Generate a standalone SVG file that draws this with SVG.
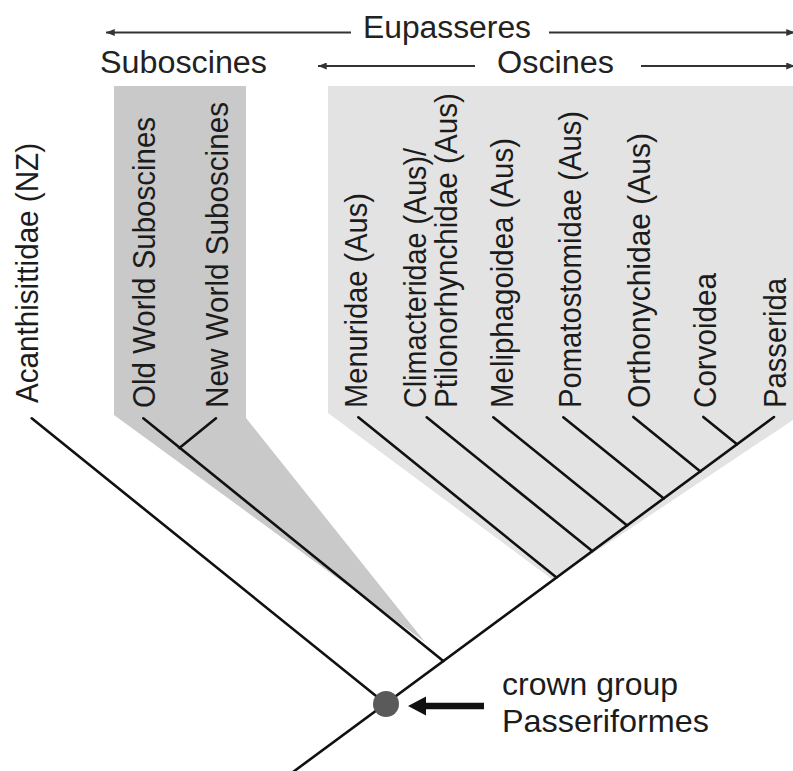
<svg xmlns="http://www.w3.org/2000/svg" width="793" height="771" viewBox="0 0 793 771">
  <defs>
    <style>
      .lbl { font-family: "Liberation Sans", Arial, sans-serif; font-size: 31px; fill: #1c1c1c; }
      .hdr { font-family: "Liberation Sans", Arial, sans-serif; font-size: 31px; fill: #222; }
      .br { stroke: #111; stroke-width: 2.6; fill: none; stroke-linecap: round; }
      .hl { stroke: #333; stroke-width: 2; fill: none; }
    </style>
    <marker id="ah" viewBox="0 0 10 8" refX="10" refY="4" markerWidth="9" markerHeight="7" markerUnits="userSpaceOnUse" orient="auto-start-reverse">
      <path d="M0,0 L10,4 L0,8 z" fill="#333"/>
    </marker>
  </defs>
  <rect width="793" height="771" fill="#fff"/>

  <!-- shaded clades -->
  <g id="shade-oscines">
    <polygon points="328,86 793,86 793,420 553,580 328,413" fill="#e3e3e3"/>
  </g>
  <g id="shade-suboscines">
    <polygon points="114,86 246,86 246,418 425,642 114,415" fill="#c9c9c9"/>
  </g>

  <!-- header labels -->
  <g id="eupasseres">
    <line class="hl" x1="351" y1="32.5" x2="106" y2="32.5" marker-end="url(#ah)"/>
    <text class="hdr" x="363" y="37.5" textLength="168" lengthAdjust="spacingAndGlyphs">Eupasseres</text>
    <line class="hl" x1="549" y1="32.5" x2="795" y2="32.5" marker-end="url(#ah)"/>
  </g>
  <g id="suboscines">
    <text class="hdr" x="100" y="73" textLength="167" lengthAdjust="spacingAndGlyphs">Suboscines</text>
  </g>
  <g id="oscines">
    <line class="hl" x1="475" y1="66" x2="318" y2="66" marker-end="url(#ah)"/>
    <text class="hdr" x="497" y="73" textLength="117" lengthAdjust="spacingAndGlyphs">Oscines</text>
    <line class="hl" x1="641" y1="66" x2="795" y2="66" marker-end="url(#ah)"/>
  </g>

  <!-- connectors (tree branches) -->
  <g id="connectors">
    <line class="br" x1="293" y1="772" x2="774" y2="417"/>
    <line class="br" x1="31.7" y1="418.3" x2="386" y2="704"/>
    <line class="br" x1="143.3" y1="418.3" x2="443.3" y2="661"/>
    <line class="br" x1="216" y1="418.3" x2="179.4" y2="448"/>
    <line class="br" x1="358.3" y1="417.3" x2="556.5" y2="577.5"/>
    <line class="br" x1="426.7" y1="417.3" x2="592.2" y2="551"/>
    <line class="br" x1="493.3" y1="417.3" x2="627.1" y2="525.4"/>
    <line class="br" x1="563.3" y1="417.3" x2="663.8" y2="498.4"/>
    <line class="br" x1="633.3" y1="417" x2="700.4" y2="471.4"/>
    <line class="br" x1="703.3" y1="417" x2="737" y2="444.3"/>
  </g>

  <!-- tip labels -->
  <g id="acanthisittidae"><text class="lbl" transform="translate(38,403) rotate(-90)" textLength="260" lengthAdjust="spacingAndGlyphs">Acanthisittidae (NZ)</text></g>
  <g id="old-world-suboscines"><text class="lbl" transform="translate(155,408) rotate(-90)" textLength="291" lengthAdjust="spacingAndGlyphs">Old World Suboscines</text></g>
  <g id="new-world-suboscines"><text class="lbl" transform="translate(228,408) rotate(-90)" textLength="306" lengthAdjust="spacingAndGlyphs">New World Suboscines</text></g>
  <g id="menuridae"><text class="lbl" transform="translate(367,408) rotate(-90)" textLength="215" lengthAdjust="spacingAndGlyphs">Menuridae (Aus)</text></g>
  <g id="climacteridae-ptilonorhynchidae">
    <text class="lbl" transform="translate(426,408) rotate(-90)" textLength="260" lengthAdjust="spacingAndGlyphs">Climacteridae (Aus)/</text>
    <text class="lbl" transform="translate(457,408) rotate(-90)" textLength="315" lengthAdjust="spacingAndGlyphs">Ptilonorhynchidae (Aus)</text>
  </g>
  <g id="meliphagoidea"><text class="lbl" transform="translate(513,408) rotate(-90)" textLength="270" lengthAdjust="spacingAndGlyphs">Meliphagoidea (Aus)</text></g>
  <g id="pomatostomidae"><text class="lbl" transform="translate(581,408) rotate(-90)" textLength="297" lengthAdjust="spacingAndGlyphs">Pomatostomidae (Aus)</text></g>
  <g id="orthonychidae"><text class="lbl" transform="translate(650,408) rotate(-90)" textLength="275" lengthAdjust="spacingAndGlyphs">Orthonychidae (Aus)</text></g>
  <g id="corvoidea"><text class="lbl" transform="translate(716,408) rotate(-90)" textLength="135" lengthAdjust="spacingAndGlyphs">Corvoidea</text></g>
  <g id="passerida"><text class="lbl" transform="translate(786,408) rotate(-90)" textLength="130" lengthAdjust="spacingAndGlyphs">Passerida</text></g>

  <!-- crown group node -->
  <g id="crown-node">
    <circle cx="386" cy="704" r="13" fill="#5a5a5a"/>
  </g>
  <g id="crown-label">
    <polygon points="408,706 426,696.5 426,702.7 484,702.7 484,709.3 426,709.3 426,715.5" fill="#111"/>
    <text class="lbl" x="502" y="695" textLength="176" lengthAdjust="spacingAndGlyphs" style="font-size:32px">crown group</text>
    <text class="lbl" x="502" y="731.5" textLength="207" lengthAdjust="spacingAndGlyphs" style="font-size:32px">Passeriformes</text>
  </g>
</svg>
